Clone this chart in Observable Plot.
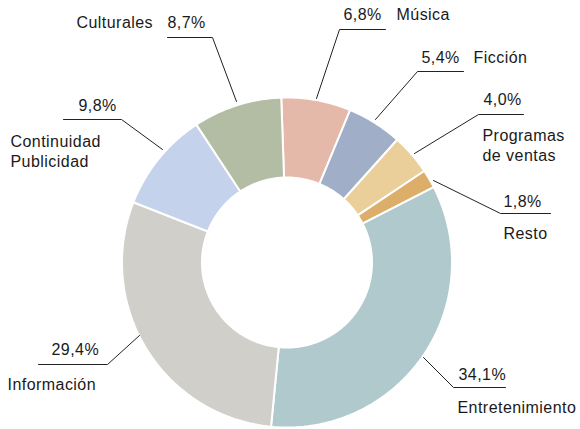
<!DOCTYPE html>
<html>
<head>
<meta charset="utf-8">
<script src="https://cdn.jsdelivr.net/npm/d3@7"></script>
<script src="https://cdn.jsdelivr.net/npm/@observablehq/plot@0.6"></script>
<style>
  html, body { margin: 0; padding: 0; background: #fff; overflow: hidden; }
  svg { display: block; }
</style>
</head>
<body>
<script>
// ---- Data ----
const categories = ["Música", "Ficción", "Programas\nde ventas", "Resto", "Entretenimiento", "Información", "Continuidad\nPublicidad", "Culturales"];
const values = [6.8, 5.4, 4.0, 1.8, 34.1, 29.4, 9.8, 8.7];
const colors = ["#e4b9a9", "#a0aec7", "#eacf9a", "#dcae69", "#b0c9cc", "#d1cfc9", "#c4d2ec", "#b3bda3"];

// ---- Layout (pixel units, separate from data) ----
const W = 580, H = 429;
const cx = 286.5, cy = 262, R = 165, r = 85;
const startDeg = -2;
// per-slice label layout: leader [start, elbow, end], percent text position, name text position
const labelLayout = [
  {line: [[316, 98], [339, 29], [385, 29]], pct: [343, 19], name: [396, 19]},
  {line: [[375, 119], [417, 71], [463, 71]], pct: [421, 62], name: [473, 62]},
  {line: [[414, 153], [478, 114], [523, 114]], pct: [483, 104], name: [482, 160]},
  {line: [[433, 180], [500, 213], [550, 213]], pct: [503, 206], name: [503, 238]},
  {line: [[423, 357], [453, 387], [505, 387]], pct: [458, 379], name: [457, 412]},
  {line: [[139, 335], [107, 364], [38, 364]], pct: [51, 354], name: [7, 389]},
  {line: [[162, 149], [121, 119], [63, 119]], pct: [78, 110], name: [10, 166]},
  {line: [[236, 101], [212, 37], [167, 37]], pct: [167, 27], name: [76, 27]}
];

// ---- Build slices from data ----
const rows = categories.map((c, i) => ({name: c, value: values[i], color: colors[i], i}));
const a0 = startDeg * Math.PI / 180;
const arcs = d3.pie().sort(null).value(d => d.value).startAngle(a0).endAngle(a0 + 2 * Math.PI)(rows);

function slicePoints(arc) {
  const pts = [];
  const n = Math.max(8, Math.ceil((arc.endAngle - arc.startAngle) * 60));
  for (let k = 0; k <= n; k++) {
    const a = arc.startAngle + (arc.endAngle - arc.startAngle) * k / n;
    pts.push({x: cx + R * Math.sin(a), y: cy - R * Math.cos(a)});
  }
  for (let k = n; k >= 0; k--) {
    const a = arc.startAngle + (arc.endAngle - arc.startAngle) * k / n;
    pts.push({x: cx + r * Math.sin(a), y: cy - r * Math.cos(a)});
  }
  pts.push(pts[0]);
  return pts;
}

const sliceMarks = arcs.map(arc => Plot.line(slicePoints(arc), {
  x: "x", y: "y", fill: arc.data.color, stroke: "white", strokeWidth: 2,
  strokeLinejoin: "miter", curve: "linear"
}));

const fmt = v => d3.format(".1f")(v).replace(".", ",") + "%";

const leaderPts = rows.flatMap((d, i) => labelLayout[i].line.map(([x, y]) => ({x, y, i})));
const pctTexts = rows.map((d, i) => ({x: labelLayout[i].pct[0], y: labelLayout[i].pct[1], text: fmt(d.value)}));
const nameTexts = rows.map((d, i) => ({x: labelLayout[i].name[0], y: labelLayout[i].name[1], text: d.name}));

const textOpts = {
  x: "x", y: "y", text: "text", textAnchor: "start", lineAnchor: "bottom",
  fontSize: 16, lineHeight: 1.22, fill: "#1a1a1a", fontFamily: "'Liberation Sans', Helvetica, Arial, sans-serif"
};

const chart = Plot.plot({
  width: W, height: H,
  marginTop: 0, marginRight: 0, marginBottom: 0, marginLeft: 0,
  x: {domain: [0, W], axis: null},
  y: {domain: [H, 0], axis: null},
  style: {background: "#fff", fontFamily: "'Liberation Sans', Helvetica, Arial, sans-serif", letterSpacing: "0.45px"},
  marks: [
    ...sliceMarks,
    Plot.line(leaderPts, {x: "x", y: "y", z: "i", stroke: "#222", strokeWidth: 1, curve: "linear"}),
    Plot.text(pctTexts, textOpts),
    Plot.text(nameTexts, textOpts)
  ]
});
document.body.appendChild(chart);
</script>
</body>
</html>
